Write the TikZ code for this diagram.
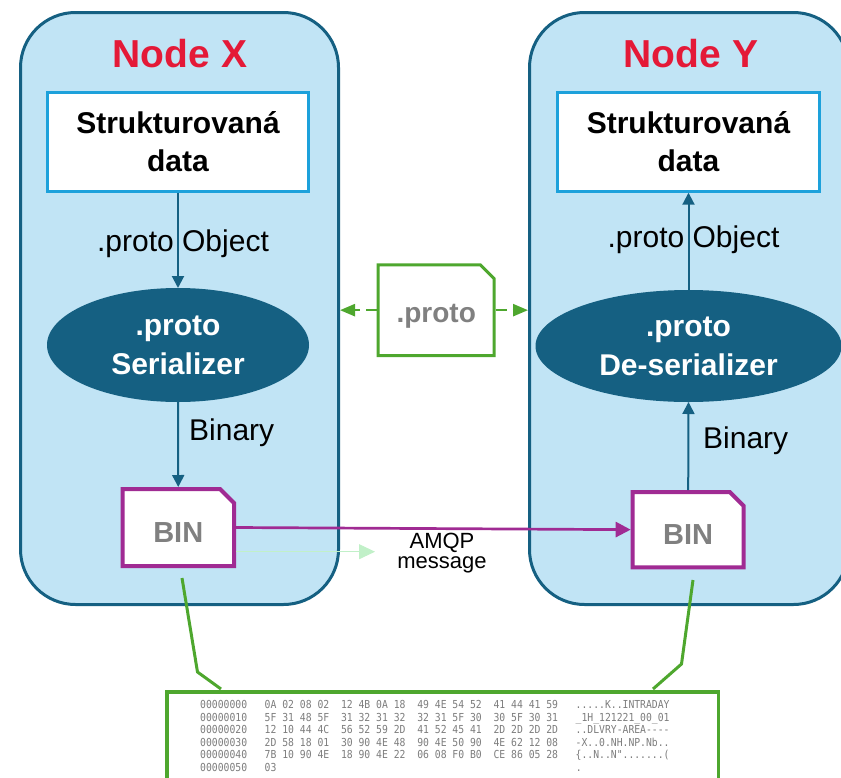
\documentclass[tikz,border=0pt]{standalone}
\usepackage{fontspec}
\setmainfont{Liberation Sans}
\newfontfamily\hexfont[FakeStretch=0.886,Ligatures=TeXOff]{DejaVu Sans Mono}
\usetikzlibrary{arrows.meta,shapes.geometric,calc}
\definecolor{contfill}{RGB}{193,228,245}
\definecolor{contborder}{RGB}{21,96,130}
\definecolor{boxblue}{RGB}{29,161,219}
\definecolor{binpurple}{RGB}{160,43,147}
\definecolor{docgreen}{RGB}{78,167,46}
\definecolor{lightgreen}{RGB}{193,240,200}
\definecolor{titlered}{RGB}{228,25,55}
\definecolor{textgray}{RGB}{128,128,128}
\definecolor{hexgray}{RGB}{125,125,125}
\begin{document}
\begin{tikzpicture}[x=1pt,y=-1pt,
  container/.style={draw=contborder, line width=3pt, fill=contfill, rounded corners=55pt, inner sep=0, minimum height=592pt},
  title/.style={text=titlered, font=\fontsize{39}{47}\selectfont\bfseries, inner sep=0},
  databox/.style={draw=boxblue, line width=3pt, fill=white, minimum width=260.3pt, minimum height=99pt, align=center, font=\fontsize{30}{38}\selectfont\bfseries, inner sep=0},
  proc/.style={ellipse, fill=contborder, text=white, align=center, font=\fontsize{30}{39}\selectfont\bfseries, inner sep=0, outer sep=0},
  flow/.style={draw=contborder, line width=2pt, -{Triangle[length=12pt,width=12pt]}},
  lbl/.style={font=\fontsize{30}{36}\selectfont, text=black, inner sep=0},
  binbox/.style={draw=binpurple, line width=4pt, fill=white},
  bintext/.style={text=textgray, font=\fontsize{29}{35}\selectfont\bfseries, inner sep=0, outer sep=2pt, text height=29.8pt},
  docbox/.style={draw=docgreen, line width=3pt, fill=white},
  doctext/.style={text=textgray, font=\fontsize{28}{34}\selectfont\bfseries, inner sep=0, outer sep=1.5pt, text height=31pt},
  dasharrow/.style={draw=docgreen, line width=2.5pt, dash pattern=on 11pt off 6pt, -{Triangle[length=15pt,width=12pt]}},
  msgarrow/.style={draw=binpurple, line width=2.7pt, -{Triangle[length=15pt,width=15pt]}},
  amqparrow/.style={draw=lightgreen, line width=1pt, -{Triangle[length=16pt,width=15pt]}},
  callout/.style={draw=docgreen, line width=3pt},
  hexframe/.style={draw=docgreen, line width=3.5pt, fill=white, inner sep=0},
  hex/.style={text=hexgray, font=\hexfont\fontsize{11}{12.5}\selectfont, inner sep=0}
]
\useasboundingbox (0,0) rectangle (841,777);
\clip (0,0) rectangle (841,777);

% containers
\node[container, minimum width=318pt] (contx) at (179.5,308.5) {};
\node[container, minimum width=319pt] (conty) at (689,308.5) {};

% titles
\node[title, anchor=base] (titlex) at (180,67) {Node X};
\node[title, anchor=base] (titley) at (691,67) {Node Y};

% data boxes
\node[databox] (datax) at (178,141.7) {Strukturovaná\\data};
\node[databox, minimum width=262.5pt] (datay) at (688.5,141.7) {Strukturovaná\\data};

% ellipses
\node[proc, minimum width=262pt, minimum height=114pt] (serx) at (178,345) {.proto\\Serializer};
\node[proc, minimum width=306pt, minimum height=112pt] (sery) at (688.5,346) {.proto\\De-serializer};

% BIN boxes
\draw[binbox] (122.5,489) -- (220,489) -- (234,503) -- (234,566) -- (122.5,566) -- cycle;
\node[bintext, minimum width=111.5pt, minimum height=77pt] (binx) at (178.25,527.5) {BIN};
\draw[binbox] (632.7,492) -- (729.7,492) -- (743.7,506) -- (743.7,567.3) -- (632.7,567.3) -- cycle;
\node[bintext, minimum width=111pt, minimum height=75.3pt] (biny) at (688.2,529.65) {BIN};

% flows
\draw[flow] (datax.south) -- (serx.north);
\draw[flow] (serx.south) -- (binx.north);
\draw[flow] (biny.north) -- (sery.south);
\draw[flow] (sery.north) -- (datay.south);

% labels
\node[lbl, anchor=base] (lblx1) at (183,251.7) {.proto Object};
\node[lbl, anchor=base west] (lblx2) at (189,440.7) {Binary};
\node[lbl, anchor=base] (lbly1) at (693.5,247) {.proto Object};
\node[lbl, anchor=base west] (lbly2) at (703,448) {Binary};

% .proto document
\draw[docbox] (378.2,264.8) -- (480.2,264.8) -- (494.2,278.8) -- (494.2,355.5) -- (378.2,355.5) -- cycle;
\node[doctext, minimum width=116pt, minimum height=90.7pt] (doc) at (436.2,310.15) {.proto};
\draw[dasharrow] (doc.west) -- (doc.west -| contx.east);
\draw[dasharrow] (doc.east) -- (doc.east -| conty.west);

% message
\draw[msgarrow] (binx.east) -- (biny.west);
\coordinate (amqptip) at (375,551.7);
\draw[amqparrow] (binx.east |- amqptip) -- (amqptip);
\node[font=\fontsize{22}{20}\selectfont, align=center, inner sep=0] (amqp) at (442,553.5) {AMQP\\message};

% hex dump frame
\node[hexframe, minimum width=551.5pt, minimum height=108.25pt] (hexbox) at (442.5,745.9) {};
\coordinate (cla) at (182,578);
\coordinate (clb) at (197.5,672);
\coordinate (clc) at (221,689);
\coordinate (cra) at (693,580);
\coordinate (crb) at (681.5,664);
\coordinate (crc) at (653,689);
\draw[callout] (cla) -- (clb) -- (clc);
\draw[callout] (cra) -- (crb) -- (crc);

% hex text
\node[hex, anchor=base west] (h0) at (200,708.5) {00000000~~~0A~02~08~02~~12~4B~0A~18~~49~4E~54~52~~41~44~41~59~~~.....K..INTRADAY};
\node[hex, anchor=base west] (h1) at (200,721) {00000010~~~5F~31~48~5F~~31~32~31~32~~32~31~5F~30~~30~5F~30~31~~~\_1H\_121221\_00\_01};
\node[hex, anchor=base west] (h2) at (200,733.5) {00000020~~~12~10~44~4C~~56~52~59~2D~~41~52~45~41~~2D~2D~2D~2D~~~..DLVRY-AREA----};
\node[hex, anchor=base west] (h3) at (200,746) {00000030~~~2D~58~18~01~~30~90~4E~48~~90~4E~50~90~~4E~62~12~08~~~-X..0.NH.NP.Nb..};
\node[hex, anchor=base west] (h4) at (200,758.5) {00000040~~~7B~10~90~4E~~18~90~4E~22~~06~08~F0~B0~~CE~86~05~28~~~\{..N..N".......(};
\node[hex, anchor=base west] (h5) at (200,771) {00000050~~~03};
\node[hex, anchor=base west] (h5a) at (575.7,771) {.};
\end{tikzpicture}
\end{document}
